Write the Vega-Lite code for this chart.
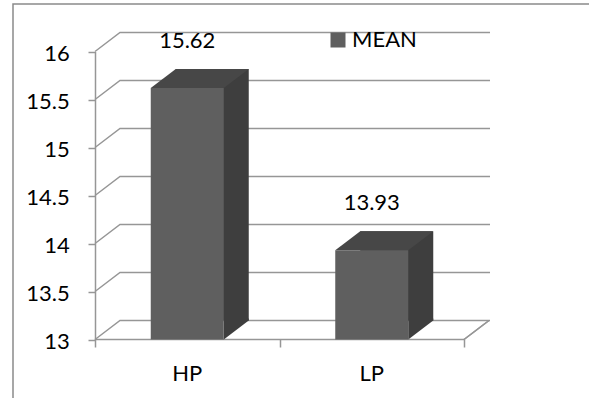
{
  "$schema": "https://vega.github.io/schema/vega-lite/v6.json",
  "width": 596,
  "height": 414,
  "autosize": {"type": "none"},
  "padding": {"left": 13, "top": 4, "right": -20, "bottom": -20},
  "background": "white",
  "config": {"view": {"stroke": "#8a8a8a", "strokeWidth": 1.5}, "font": "Lato"},
  "data": {"values": [
    {"group": "HP", "mean": 15.62, "series": "MEAN"},
    {"group": "LP", "mean": 13.93, "series": "MEAN"}
  ]},
  "layer": [
    {
      "data": {"values": [{"tick": 13}, {"tick": 13.5}, {"tick": 14}, {"tick": 14.5}, {"tick": 15}, {"tick": 15.5}, {"tick": 16}]},
      "layer": [
        {
          "mark": {"type": "point", "shape": "M -92.25 0 L -67.25 -19 L 302.75 -19", "size": 4, "filled": false, "stroke": "#969696", "strokeWidth": 1.5, "opacity": 1},
          "encoding": {
            "x": {"datum": "HP", "type": "nominal", "title": null, "scale": {"type": "band", "domain": ["HP", "LP"], "range": [82, 451], "paddingInner": 0, "paddingOuter": 0}},
            "y": {"field": "tick", "type": "quantitative", "title": null, "scale": {"domain": [13, 16], "range": [335.5, 47.5], "nice": false, "zero": false}}
          }
        },
        {
          "mark": {"type": "text", "align": "right", "baseline": "middle", "dx": -117.5, "dy": 2.5, "fontSize": 22, "font": "Lato", "color": "black"},
          "encoding": {
            "x": {"datum": "HP", "type": "nominal", "title": null},
            "y": {"field": "tick", "type": "quantitative", "title": null},
            "text": {"field": "tick", "type": "quantitative", "format": "~g"}
          }
        }
      ]
    },
    {
      "mark": {"type": "point", "shape": "M 92.25 0 L 117.25 -19", "size": 4, "filled": false, "stroke": "#969696", "strokeWidth": 1.5, "opacity": 1},
      "encoding": {
        "x": {"datum": "LP", "type": "nominal", "title": null},
        "y": {"datum": 13, "type": "quantitative", "title": null}
      }
    },
    {
      "mark": {"type": "bar", "width": 73, "color": "#3e3e3e", "xOffset": 25, "x2Offset": 25, "yOffset": -19, "y2Offset": -19},
      "encoding": {
        "x": {"field": "group", "type": "nominal", "title": null},
        "y": {"field": "mean", "type": "quantitative", "title": null},
        "y2": {"datum": 13}
      }
    },
    {
      "mark": {"type": "point", "shape": "M 36.5 0 L 36.5 -21 L 61.5 -21 L 61.5 -19 Z", "size": 4, "filled": true, "color": "#3e3e3e", "strokeWidth": 0, "opacity": 1},
      "encoding": {
        "x": {"field": "group", "type": "nominal", "title": null},
        "y": {"datum": 13, "type": "quantitative", "title": null}
      }
    },
    {
      "mark": {"type": "point", "shape": "M -36.5 0 L 36.5 0 L 61.5 -19 L -11.5 -19 Z", "size": 4, "filled": true, "color": "#474747", "strokeWidth": 0, "opacity": 1},
      "encoding": {
        "x": {"field": "group", "type": "nominal", "title": null},
        "y": {"field": "mean", "type": "quantitative", "title": null}
      }
    },
    {
      "mark": {"type": "bar", "width": 73},
      "encoding": {
        "x": {"field": "group", "type": "nominal", "title": null, "axis": {"orient": "bottom", "offset": -79, "tickBand": "extent", "tickSize": 8, "labels": false, "domainColor": "#969696", "domainWidth": 1.5, "tickColor": "#969696", "tickWidth": 1.5, "title": null}},
        "y": {"field": "mean", "type": "quantitative", "title": null, "axis": {"values": [13, 13.5, 14, 14.5, 15, 15.5, 16], "offset": -82, "tickSize": 7, "labels": false, "domainColor": "#969696", "domainWidth": 1.5, "tickColor": "#969696", "tickWidth": 1.5, "grid": false, "title": null}},
        "y2": {"datum": 13},
        "color": {"field": "series", "type": "nominal", "scale": {"range": ["#5f5f5f"]}, "legend": {"orient": "none", "legendX": 314, "legendY": 25, "title": null, "symbolType": "square", "symbolSize": 225, "symbolStrokeWidth": 0, "labelFont": "Lato", "labelFontSize": 22, "labelColor": "black", "labelOffset": 3}}
      }
    },
    {
      "mark": {"type": "text", "dy": 34.5, "fontSize": 22, "font": "Lato", "color": "black", "baseline": "middle", "align": "center"},
      "encoding": {
        "x": {"field": "group", "type": "nominal", "title": null},
        "y": {"datum": 13, "type": "quantitative", "title": null},
        "text": {"field": "group", "type": "nominal"}
      }
    },
    {
      "mark": {"type": "text", "dy": -47, "fontSize": 22, "font": "Lato", "color": "black", "baseline": "middle", "align": "center"},
      "encoding": {
        "x": {"field": "group", "type": "nominal", "title": null},
        "y": {"field": "mean", "type": "quantitative", "title": null},
        "text": {"field": "mean", "type": "quantitative", "format": ".2f"}
      }
    }
  ]
}
